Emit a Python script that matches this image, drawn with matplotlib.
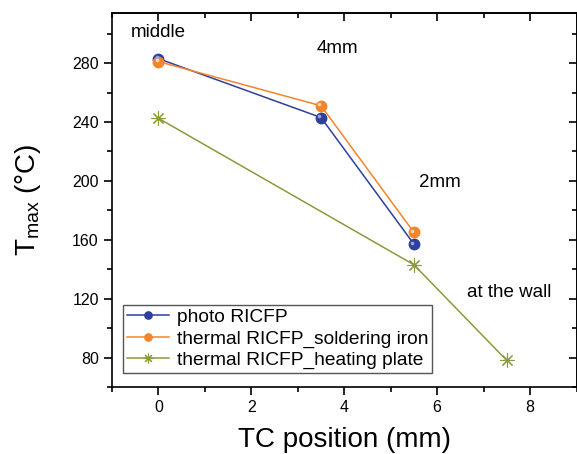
import matplotlib
matplotlib.use("Agg")
import matplotlib.pyplot as plt
from matplotlib.ticker import MultipleLocator
import matplotlib.transforms as mtransforms

plt.rcParams['font.family'] = ['Liberation Sans', 'DejaVu Sans']
plt.rcParams['mathtext.fontset'] = 'custom'
plt.rcParams['mathtext.rm'] = 'Liberation Sans'
plt.rcParams['mathtext.it'] = 'Liberation Sans:italic'

# Data
x_photo = [0, 3.5, 5.5]
t_photo = [283, 243, 157]
x_solder = [0, 3.5, 5.5]
t_solder = [281, 251, 165]
x_plate = [0, 5.5, 7.5]
t_plate = [242.5, 143, 78]

labels = ["photo RICFP", "thermal RICFP_soldering iron", "thermal RICFP_heating plate"]
annotations = [("middle", 0, 301), ("4mm", 3.85, 290), ("2mm", 6.05, 199), ("at the wall", 7.55, 124)]

blue = '#2f3f9c'
orange = '#f5852a'
olive = '#8a9a3c'

fig = plt.figure(figsize=(5.77, 4.54), dpi=100)
ax = fig.add_axes([112/577, 1 - 387/454, (576.5 - 112)/577, (387 - 13)/454])

ax.plot(x_photo, t_photo, color=blue, lw=1.1, marker='o', ms=7.5,
        markerfacecolor=blue, markeredgecolor=blue, label=labels[0], zorder=3)
ax.plot(x_solder, t_solder, color=orange, lw=1.1, marker='o', ms=7.5,
        markerfacecolor=orange, markeredgecolor=orange, label=labels[1], zorder=4)
ax.plot(x_plate, t_plate, color=olive, lw=1.1, marker=(8, 2, 0), ms=10,
        markeredgewidth=0.8, label=labels[2], zorder=3)
# highlight on balls (offset up-left)
off = mtransforms.ScaledTranslation(-1.2/72, 1.2/72, fig.dpi_scale_trans)
ax.plot(x_photo, t_photo, ls='none', marker='o', ms=2.6, color='#9aa6e0', mew=0, zorder=5,
        transform=ax.transData + off)
ax.plot(x_solder, t_solder, ls='none', marker='o', ms=2.6, color='#ffd6ad', mew=0, zorder=5,
        transform=ax.transData + off)

ax.set_xlim(-1, 9)
ax.set_ylim(60, 314)
ax.xaxis.set_major_locator(MultipleLocator(2))
ax.xaxis.set_minor_locator(MultipleLocator(1))
ax.yaxis.set_major_locator(MultipleLocator(40))
ax.yaxis.set_minor_locator(MultipleLocator(20))

ax.tick_params(axis='both', which='major', direction='out', length=6, width=1.2,
               labelsize=11.5, top=False, right=False)
ax.tick_params(axis='both', which='minor', direction='out', length=3.5, width=1.2,
               top=False, right=False)

# mirrored inward ticks on top/right
sec_x = ax.secondary_xaxis('top')
sec_x.xaxis.set_major_locator(MultipleLocator(2))
sec_x.xaxis.set_minor_locator(MultipleLocator(1))
sec_x.tick_params(which='major', direction='in', length=6, width=1.2, labeltop=False)
sec_x.tick_params(which='minor', direction='in', length=3.5, width=1.2)
sec_x.set_xticklabels([])
sec_y = ax.secondary_yaxis('right')
sec_y.yaxis.set_major_locator(MultipleLocator(40))
sec_y.yaxis.set_minor_locator(MultipleLocator(20))
sec_y.tick_params(which='major', direction='in', length=6, width=1.2, labelright=False)
sec_y.tick_params(which='minor', direction='in', length=3.5, width=1.2)
sec_y.set_yticklabels([])
for s in ax.spines.values():
    s.set_linewidth(1.2)
for s in sec_x.spines.values():
    s.set_linewidth(1.2)
for s in sec_y.spines.values():
    s.set_linewidth(1.2)

ax.set_xlabel("TC position (mm)", fontsize=20, labelpad=8.5)
ax.set_ylabel(r"T$_{\mathrm{max}}$ (°C)", fontsize=20, labelpad=21)

for txt, xx, yy in annotations:
    ax.text(xx, yy, txt, fontsize=13.5, ha='center', va='center')

leg = ax.legend(loc='lower left', bbox_to_anchor=(0.024, 0.038), fontsize=13.8,
                frameon=True, fancybox=False, edgecolor='#555555', framealpha=1,
                handlelength=2.2, handletextpad=0.4, labelspacing=0.2,
                borderpad=0.2, borderaxespad=0, markerscale=0.7)
leg.get_frame().set_linewidth(1.0)

fig.savefig("out.png", dpi=100)
